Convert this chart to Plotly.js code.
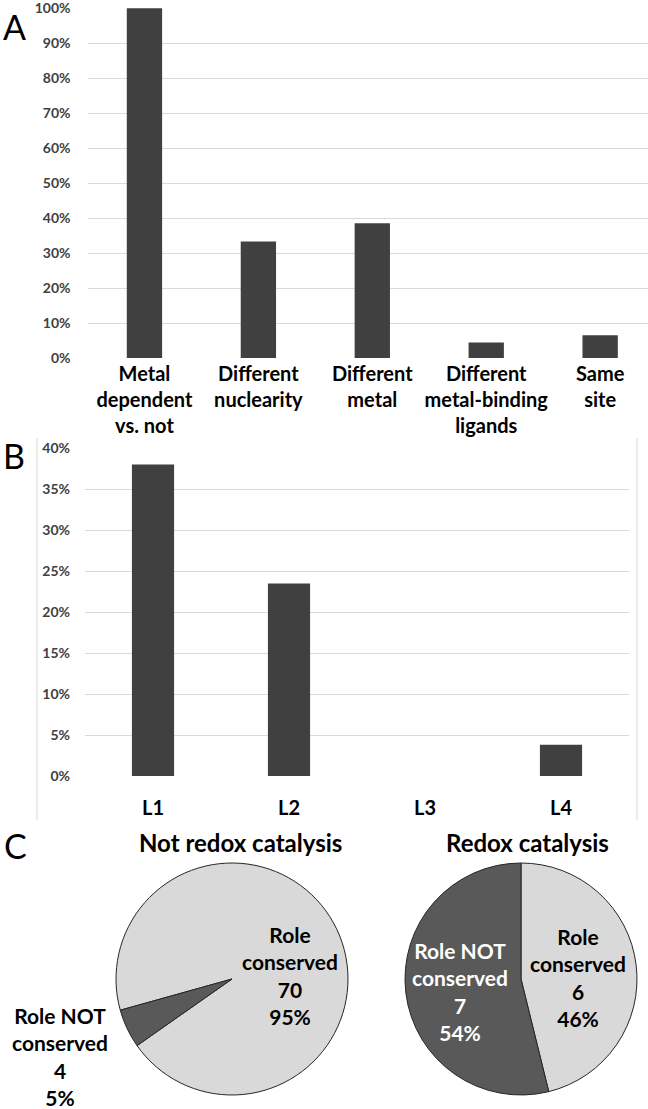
<!DOCTYPE html>
<html><head><meta charset="utf-8">
<script src="https://cdn.plot.ly/plotly-3.0.1.min.js"></script>
<style>html,body{margin:0;padding:0;background:#fff}#chart{width:648px;height:1109px}</style>
</head><body><div id="chart"></div>
<script>
// ---- data ----
const categoriesA = ['Metal<br>dependent<br>vs. not', 'Different<br>nuclearity', 'Different<br>metal', 'Different<br>metal-binding<br>ligands', 'Same<br>site'];
const valuesA = [100, 33.3, 38.5, 4.4, 6.5];
const tickValsA = [0, 10, 20, 30, 40, 50, 60, 70, 80, 90, 100];
const categoriesB = ['L1', 'L2', 'L3', 'L4'];
const valuesB = [38, 23.5, 0, 3.8];
const tickValsB = [0, 5, 10, 15, 20, 25, 30, 35, 40];
const pieLabels = ['Role<br>conserved', 'Role NOT<br>conserved'];
const notRedoxCounts = [70, 4];
const redoxCounts = [6, 7];
const pieTitles = ['Not redox catalysis', 'Redox catalysis'];

// ---- helpers ----
const W = 648, H = 1109;
const px = x => x / W;
const py = y => 1 - y / H;
const FONT = 'Lato, "Open Sans", "DejaVu Sans", sans-serif';
const DARK = '#404040';
const GRID = '#d9d9d9';
const pct = (arr, i) => Math.round(arr[i] / arr.reduce((a, b) => a + b, 0) * 100);
const pieText = (arr, i) => pieLabels[i] + '<br>' + arr[i] + '<br>' + pct(arr, i) + '%';
const ann = (text, x, y, font) => ({text: text, x: px(x), y: py(y), xref: 'paper', yref: 'paper',
  xanchor: 'center', yanchor: 'middle', showarrow: false, font: font});

const traces = [
  {type: 'bar', x: categoriesA, y: valuesA, xaxis: 'x', yaxis: 'y',
   marker: {color: DARK, line: {width: 0}}},
  {type: 'bar', x: categoriesB, y: valuesB, xaxis: 'x2', yaxis: 'y2',
   marker: {color: DARK, line: {width: 0}}},
  {type: 'pie', labels: pieLabels, values: notRedoxCounts, sort: false, direction: 'clockwise',
   rotation: 254.4, textinfo: 'none', hoverinfo: 'skip',
   marker: {colors: ['#d9d9d9', '#595959'], line: {color: '#262626', width: 1}},
   domain: {x: [px(116), px(348)], y: [py(1095), py(863)]}},
  {type: 'pie', labels: pieLabels, values: redoxCounts, sort: false, direction: 'clockwise',
   rotation: 0, textinfo: 'none', hoverinfo: 'skip',
   marker: {colors: ['#d9d9d9', '#595959'], line: {color: '#262626', width: 1}},
   domain: {x: [px(405), px(637)], y: [py(1095), py(863)]}}
];

const tickFont = {family: FONT, size: 14, color: DARK, weight: 'bold'};
const catFont = {family: FONT, size: 20, color: '#000', weight: 'bold'};
const letterFont = {family: FONT, size: 34, color: '#000'};
const titleFont = {family: FONT, size: 24, color: '#000', weight: 'bold'};
const pieFont = {family: FONT, size: 21, color: '#000', weight: 'bold'};
const pieFontW = {family: FONT, size: 21, color: '#fff', weight: 'bold'};

const layout = {
  width: W, height: H,
  margin: {l: 0, r: 0, t: 0, b: 0},
  paper_bgcolor: '#fff', plot_bgcolor: '#fff',
  showlegend: false, hovermode: false, bargap: 0.69,
  xaxis: {domain: [px(87.5), 1], range: [-0.5, 4.42], showgrid: false, showline: false, zeroline: false,
          ticks: '', tickfont: catFont, ticklabelstandoff: 2, fixedrange: true},
  yaxis: {domain: [py(358), py(8)], range: [0, 100.05], tickmode: 'array', tickvals: tickValsA,
          ticktext: tickValsA.map(v => v + '%'), gridcolor: GRID, gridwidth: 1, ticklabeloverflow: 'allow',
          zeroline: false, showline: false, ticks: '', tickfont: tickFont, ticklabelstandoff: 16, fixedrange: true},
  xaxis2: {domain: [px(85), px(629)], range: [-0.5, 3.5], showgrid: false, showline: false, zeroline: false,
           ticks: '', tickfont: catFont, ticklabelstandoff: 18, anchor: 'y2', fixedrange: true},
  yaxis2: {domain: [py(776), py(448)], range: [0, 40.02], tickmode: 'array', tickvals: tickValsB,
           ticktext: tickValsB.map(v => v + '%'), gridcolor: GRID, gridwidth: 1, ticklabeloverflow: 'allow',
           zeroline: false, showline: false, ticks: '', tickfont: tickFont, ticklabelstandoff: 14, anchor: 'x2', fixedrange: true},
  shapes: [
    {type: 'line', xref: 'paper', yref: 'paper', x0: px(37), x1: px(37), y0: py(438), y1: py(820), line: {color: GRID, width: 1}},
    {type: 'line', xref: 'paper', yref: 'paper', x0: px(637), x1: px(637), y0: py(438), y1: py(820), line: {color: GRID, width: 1}}
  ],
  annotations: [
    ann('A', 14, 26, letterFont),
    ann('B', 14, 455, letterFont),
    ann('C', 15, 845, letterFont),
    ann(pieTitles[0], 240, 843, titleFont),
    ann(pieTitles[1], 527, 843, titleFont),
    ann(pieText(notRedoxCounts, 0), 290, 975, pieFont),
    ann(pieText(notRedoxCounts, 1), 60, 1056, pieFont),
    ann(pieText(redoxCounts, 0), 578, 977, pieFont),
    ann(pieText(redoxCounts, 1), 460, 991, pieFontW)
  ]
};

Plotly.newPlot('chart', traces, layout, {displayModeBar: false, staticPlot: true});
</script>
</body></html>
